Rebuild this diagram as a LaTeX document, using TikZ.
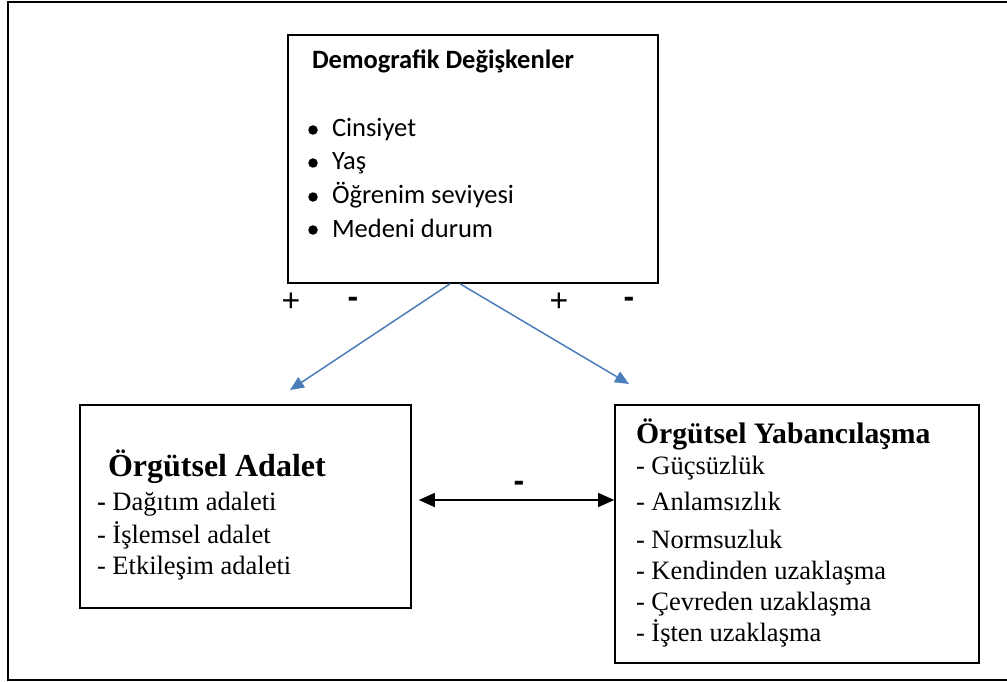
\documentclass[tikz,border=0pt]{standalone}
\usepackage{fontspec}
\setmainfont{Liberation Serif}
\newfontfamily\carl{Carlito}
\newfontfamily\arl{Liberation Sans}
\usetikzlibrary{arrows.meta,calc}
\definecolor{wordblue}{HTML}{4A7EBB}
\tikzset{
  box/.style={draw=black, line width=1.6pt, rectangle, inner sep=0pt},
  txt/.style={anchor=base west, inner sep=0pt, outer sep=0pt},
  sign/.style={inner sep=0pt, font=\arl\fontsize{32}{36}\selectfont},
  bul/.style={circle, fill=black, inner sep=0pt, minimum size=9.5pt},
  bluearrow/.style={draw=wordblue, line width=1.5pt, -{Triangle[length=14pt,width=12pt]}},
  blackarrow/.style={draw=black, line width=1.5pt, {Triangle[length=16pt,width=14pt]}-{Triangle[length=16pt,width=14pt]}},
  demo/.style={txt, font=\carl\fontsize{26.5}{30}\selectfont},
  tms/.style={txt, font=\fontsize{26.5}{30}\selectfont}
}
\begin{document}
\begin{tikzpicture}[x=1pt,y=-1pt]
\useasboundingbox (0,0) rectangle (1007,682);
% outer frame
\draw[line width=1.6pt] (1008,2) -- (8,2) -- (8,680) -- (1008,680);

% boxes
\node[box, minimum width=370pt, minimum height=248pt] (demo) at (473,159) {};
\node[box, minimum width=331pt, minimum height=203pt] (adalet) at (245.5,506.5) {};
\node[box, minimum width=364pt, minimum height=258pt] (yab) at (797,534) {};

% top box text
\node[txt, font=\carl\bfseries\fontsize{26.5}{30}\selectfont] (dh) at (312,69) {Demografik Değişkenler};
\node[bul] (b1) at (313,130) {};
\node[demo] (d1) at (332,137) {Cinsiyet};
\node[bul] (b2) at (313,163) {};
\node[demo] (d2) at (332,170) {Yaş};
\node[bul] (b3) at (313,197) {};
\node[demo] (d3) at (332,204) {Öğrenim seviyesi};
\node[bul] (b4) at (313,230) {};
\node[demo] (d4) at (332,237) {Medeni durum};

% left box text
\node[txt, font=\bfseries\fontsize{32}{36}\selectfont] (at) at (108,476) {Örgütsel Adalet};
\node[tms] (a1) at (97,510) {\textbf{-} Dağıtım adaleti};
\node[tms] (a2) at (97,543) {- İşlemsel adalet};
\node[tms] (a3) at (97,574) {- Etkileşim adaleti};

% right box text
\node[txt, font=\bfseries\fontsize{29.7}{34}\selectfont] (yt) at (636,443) {Örgütsel Yabancılaşma};
\node[tms] (y1) at (636,474) {- Güçsüzlük};
\node[tms] (y2) at (636,510) {- Anlamsızlık};
\node[tms] (y3) at (636,548) {- Normsuzluk};
\node[tms] (y4) at (636,579) {- Kendinden uzaklaşma};
\node[tms] (y5) at (636,610) {- Çevreden uzaklaşma};
\node[tms] (y6) at (636,641) {- İşten uzaklaşma};

% signs
\node[sign] (p1) at (291,302) {+};
\node[sign] (m1) at (353,302) {\textbf{-}};
\node[sign] (p2) at (559,302) {+};
\node[sign] (m2) at (629,302) {\textbf{-}};
\node[sign] (m3) at (519,486) {\textbf{-}};

% arrows
\coordinate (s1) at ($(demo.south)+(-23,0)$);
\coordinate (s2) at ($(demo.south)+(-13,0)$);
\coordinate (e1) at (290,390);
\coordinate (e2) at (629,384);
\draw[bluearrow] (s1) -- (e1);
\draw[bluearrow] (s2) -- (e2);
\draw[blackarrow] (adalet.east |- 0,500) ++(7,0) coordinate (l1) -- (yab.west |- 0,500) coordinate (r1);
\end{tikzpicture}
\end{document}
